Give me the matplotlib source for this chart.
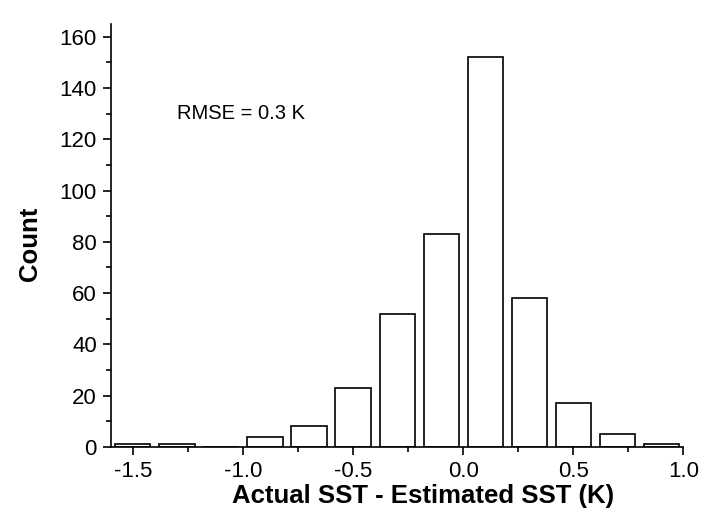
import matplotlib.pyplot as plt
import numpy as np
from matplotlib.ticker import MultipleLocator

plt.rcParams['font.family'] = ['Liberation Sans', 'DejaVu Sans']

# bin centres and counts
bin_centers = [-1.5, -1.3, -1.1, -0.9, -0.7, -0.5, -0.3, -0.1, 0.1, 0.3, 0.5, 0.7, 0.9]
counts = [1, 1, 0, 4, 8, 23, 52, 83, 152, 58, 17, 5, 1]
xtick_vals = [-1.5, -1.0, -0.5, 0.0, 0.5, 1.0]
xtick_labels = ['-1.5', '-1.0', '-0.5', '0.0', '0.5', '1.0']

fig = plt.figure(figsize=(7.06, 5.29), dpi=100)
ax = fig.add_axes([0.157, 0.155, 0.811, 0.80])

ax.bar(bin_centers, counts, width=0.16, color='white', edgecolor='black', linewidth=1.2)

ax.set_xlim(-1.6, 1.0)
ax.set_ylim(0, 165)
ax.xaxis.set_minor_locator(MultipleLocator(0.25))
ax.yaxis.set_major_locator(MultipleLocator(20))
ax.yaxis.set_minor_locator(MultipleLocator(10))
ax.set_xticks(xtick_vals)
ax.set_xticklabels(xtick_labels)

for s in ['top', 'right']:
    ax.spines[s].set_visible(False)
for s in ['left', 'bottom']:
    ax.spines[s].set_linewidth(1.2)

ax.tick_params(which='major', direction='out', length=6, width=1.2, labelsize=16, pad=4)
ax.tick_params(which='minor', direction='out', length=3.5, width=1.2)

ax.set_xlabel('Actual SST - Estimated SST (K)', fontsize=18.5, fontweight='bold')
ax.set_ylabel('Count', fontsize=18.5, fontweight='bold')
# label positions (axes fraction), slightly off centre as in the original
ax.xaxis.set_label_coords(0.546, -0.088)
ax.yaxis.set_label_coords(-0.12, 0.481)

ax.text(-1.3, 130, 'RMSE = 0.3 K', fontsize=14.5, ha='left', va='center')

plt.savefig('out.png', dpi=100)
